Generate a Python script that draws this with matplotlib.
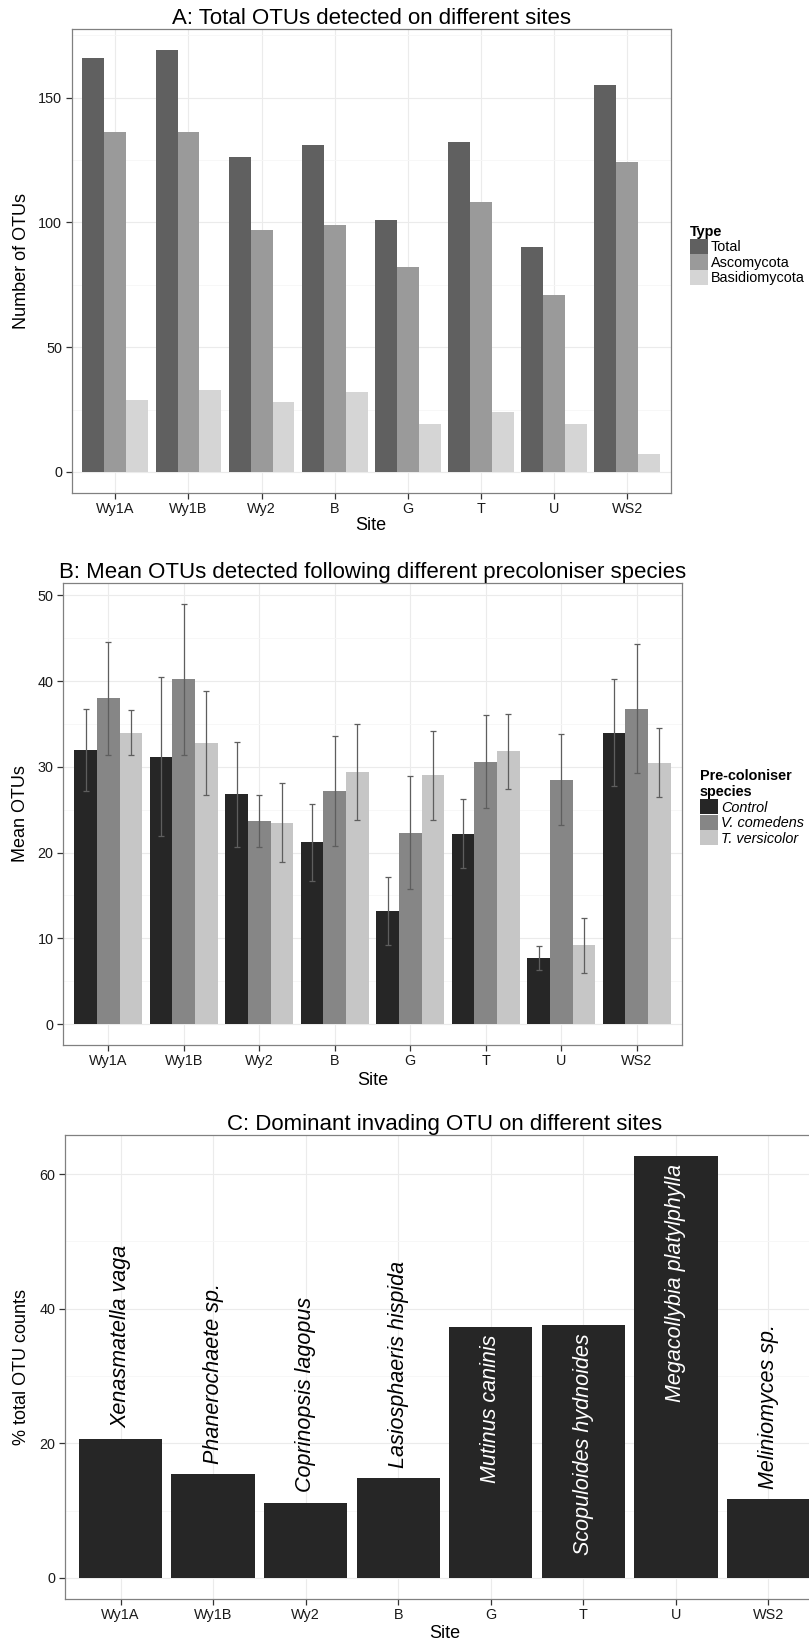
import matplotlib
matplotlib.use('Agg')
import matplotlib.pyplot as plt
from matplotlib.patches import Patch
import numpy as np

plt.rcParams['font.family'] = ['Liberation Sans', 'DejaVu Sans']

# ---- data ----
sites = ['Wy1A', 'Wy1B', 'Wy2', 'B', 'G', 'T', 'U', 'WS2']

# panel A
type_names = ['Total', 'Ascomycota', 'Basidiomycota']
total_otus = [166, 169, 126, 131, 101, 132, 90, 155]
asco_otus = [136, 136, 97, 99, 82, 108, 71, 124]
basidio_otus = [29, 33, 28, 32, 19, 24, 19, 7]

# panel B
species_names = ['Control', 'V. comedens', 'T. versicolor']
control_mean = [32.0, 31.2, 26.8, 21.2, 13.2, 22.2, 7.7, 34.0]
control_err = [4.8, 9.3, 6.1, 4.5, 4.0, 4.0, 1.4, 6.2]
vcom_mean = [38.0, 40.2, 23.7, 27.2, 22.3, 30.6, 28.5, 36.8]
vcom_err = [6.6, 8.8, 3.0, 6.4, 6.6, 5.4, 5.3, 7.5]
tvers_mean = [34.0, 32.8, 23.5, 29.4, 29.0, 31.8, 9.2, 30.5]
tvers_err = [2.65, 6.1, 4.6, 5.6, 5.2, 4.4, 3.2, 4.0]

# panel C
dominant_pct = [20.7, 15.4, 11.2, 14.8, 37.3, 37.6, 62.7, 11.7]
dominant_otu = ['Xenasmatella vaga', 'Phanerochaete sp.', 'Coprinopsis lagopus',
                'Lasiosphaeris hispida', 'Mutinus caninis', 'Scopuloides hydnoides',
                'Megacollybia platylphylla', 'Meliniomyces sp.']

W, H = 809, 1642
fig = plt.figure(figsize=(W / 100, H / 100), dpi=100)
fig.patch.set_facecolor('white')


def px_axes(left, top, right, bottom):
    return fig.add_axes([left / W, 1 - bottom / H, (right - left) / W, (bottom - top) / H])


def style_axes(ax, ymin, ymax, major, minor):
    ax.set_xlim(0.4, 8.6)
    ax.set_ylim(ymin, ymax)
    ax.set_xticks(np.arange(1, 9))
    ax.set_xticklabels(sites)
    ax.set_yticks(major)
    ax.set_yticks(minor, minor=True)
    ax.set_axisbelow(True)
    for x in np.arange(1, 9):
        ax.axvline(x, color='#ebebeb', lw=0.8, zorder=0)
    for y in minor:
        ax.axhline(y, color='#f6f6f6', lw=0.6, zorder=0)
    for y in major:
        ax.axhline(y, color='#ebebeb', lw=0.8, zorder=0)
    for s in ax.spines.values():
        s.set_color('#808080')
        s.set_linewidth(0.9)
    ax.tick_params(axis='both', which='major', length=4.3, width=0.9, color='#333333',
                   labelsize=10.4, labelcolor='#1a1a1a', pad=2.5)
    ax.tick_params(axis='both', which='minor', length=0)


x = np.arange(1, 9)

# ---- Panel A ----
axA = px_axes(71.5, 29, 671, 493)
colorsA = ['#606060', '#9a9a9a', '#d5d5d5']
for j, vals in enumerate([total_otus, asco_otus, basidio_otus]):
    axA.bar(x + (j - 1) * 0.3, vals, width=0.3, color=colorsA[j], zorder=2)
style_axes(axA, -8.45, 177.45, [0, 50, 100, 150], [25, 75, 125, 175])
axA.set_title('A: Total OTUs detected on different sites', fontsize=16, pad=3)
axA.set_xlabel('Site', fontsize=13)
axA.set_ylabel('Number of OTUs', fontsize=13)
axA.xaxis.set_label_coords(0.5, -0.052)
axA.yaxis.set_label_coords(-0.07, 0.5)
hA = [Patch(facecolor=c, edgecolor='none') for c in colorsA]
legA = axA.legend(hA, type_names, loc='upper left', bbox_to_anchor=(690 / W, 1 - 225 / H),
                  bbox_transform=fig.transFigure, frameon=False, borderpad=0, borderaxespad=0,
                  labelspacing=0, handlelength=1.25, handleheight=1.25, handletextpad=0.2,
                  fontsize=10.4, title='Type', title_fontproperties={'weight': 'bold', 'size': 10.4},
                  alignment='left')

# ---- Panel B ----
axB = px_axes(63, 583, 682, 1045)
colorsB = ['#262626', '#868686', '#c6c6c6']
for j, (m, e) in enumerate([(control_mean, control_err), (vcom_mean, vcom_err),
                             (tvers_mean, tvers_err)]):
    axB.bar(x + (j - 1) * 0.3, m, width=0.3, color=colorsB[j], zorder=2)
    axB.errorbar(x + (j - 1) * 0.3, m, yerr=e, fmt='none', ecolor='#5e5e5e',
                 elinewidth=0.9, capsize=2.2, capthick=0.9, zorder=3)
style_axes(axB, -2.45, 51.45, [0, 10, 20, 30, 40, 50], [5, 15, 25, 35, 45])
axB.set_title('B: Mean OTUs detected following different precoloniser species',
              fontsize=16, pad=3.5)
axB.set_xlabel('Site', fontsize=13)
axB.set_ylabel('Mean OTUs', fontsize=13)
axB.xaxis.set_label_coords(0.5, -0.058)
axB.yaxis.set_label_coords(-0.055, 0.5)
hB = [Patch(facecolor=c, edgecolor='none') for c in colorsB]
legB = axB.legend(hB, species_names, loc='upper left', bbox_to_anchor=(700 / W, 1 - 769 / H),
                  bbox_transform=fig.transFigure, frameon=False, borderpad=0, borderaxespad=0,
                  labelspacing=0, handlelength=1.25, handleheight=1.25, handletextpad=0.2,
                  fontsize=10.4, title='Pre-coloniser\nspecies',
                  title_fontproperties={'weight': 'bold', 'size': 10.4},
                  alignment='left', prop={'style': 'italic', 'size': 10.4})

# ---- Panel C ----
axC = px_axes(65, 1135, 824, 1599)
axC.bar(x, dominant_pct, width=0.9, color='#262626', zorder=2)
style_axes(axC, -3.135, 65.8, [0, 20, 40, 60], [10, 30, 50])
axC.set_title('C: Dominant invading OTU on different sites', fontsize=16, pad=3)
axC.set_xlabel('Site', fontsize=13)
axC.set_ylabel('% total OTU counts', fontsize=13)
axC.xaxis.set_label_coords(0.5, -0.056)
axC.yaxis.set_label_coords(-0.046, 0.5)
for xi, v, name in zip(x, dominant_pct, dominant_otu):
    if v > 30:
        axC.text(xi, v - 1.2, name, rotation=90, ha='center', va='top', color='white',
                 fontsize=15.5, fontstyle='italic', zorder=4)
    else:
        axC.text(xi, v + 1.5, name, rotation=90, ha='center', va='bottom', color='black',
                 fontsize=15.5, fontstyle='italic', zorder=4)

fig.savefig('out.png', dpi=100)
